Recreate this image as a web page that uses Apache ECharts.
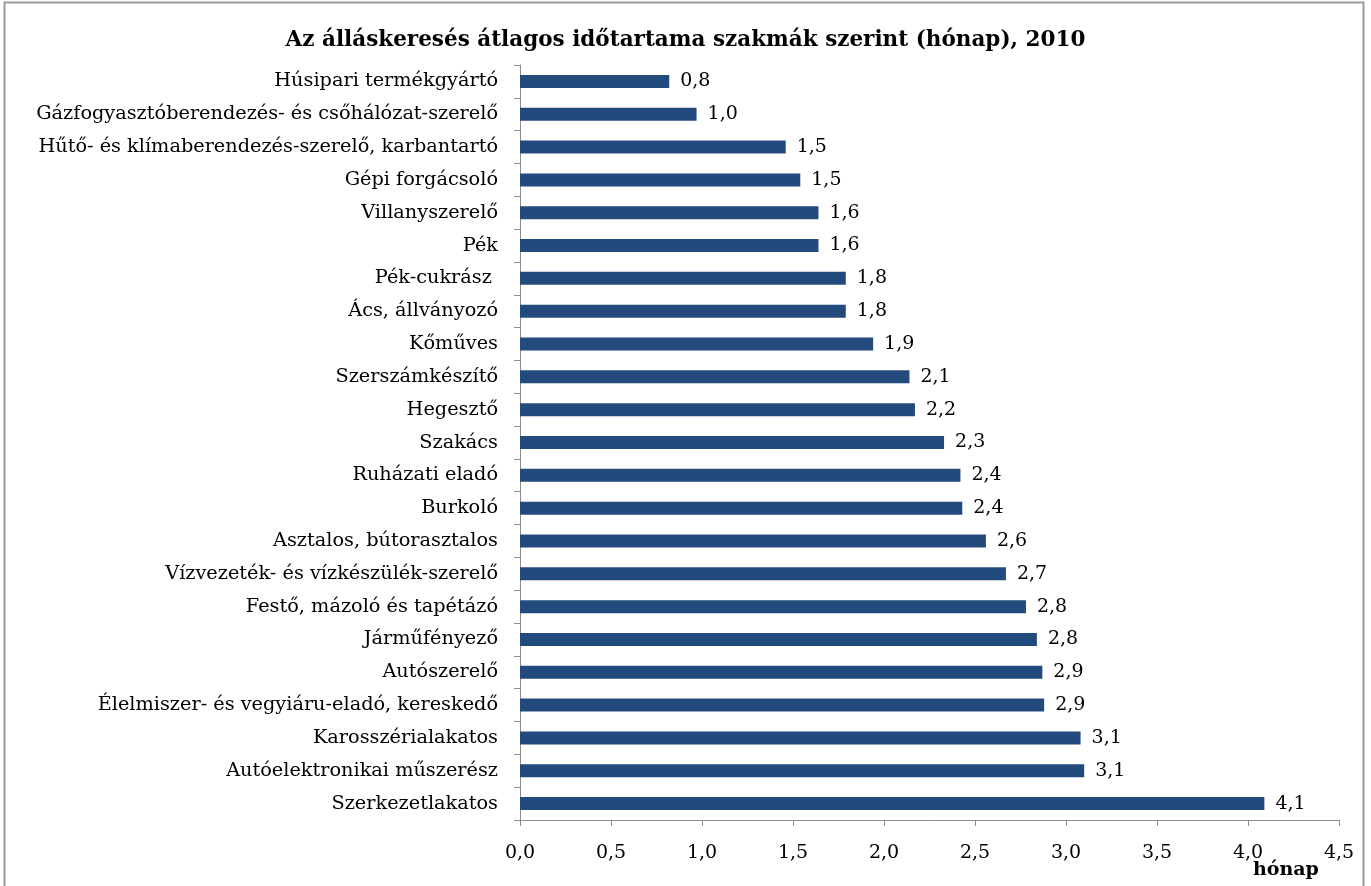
<!DOCTYPE html>
<html>
<head>
<meta charset="utf-8">
<script src="https://cdn.jsdelivr.net/npm/echarts@6/dist/echarts.min.js"></script>
<style>
  html, body { margin: 0; padding: 0; background: #fff; }
  #main { width: 1371px; height: 886px; }
</style>
</head>
<body>
<div id="main"></div>
<script>
// szakmák, felülről lefelé
var categories = [
  'Húsipari termékgyártó',
  'Gázfogyasztóberendezés- és csőhálózat-szerelő',
  'Hűtő- és klímaberendezés-szerelő, karbantartó',
  'Gépi forgácsoló',
  'Villanyszerelő',
  'Pék',
  'Pék-cukrász ',
  'Ács, állványozó',
  'Kőműves',
  'Szerszámkészítő',
  'Hegesztő',
  'Szakács',
  'Ruházati eladó',
  'Burkoló',
  'Asztalos, bútorasztalos',
  'Vízvezeték- és vízkészülék-szerelő',
  'Festő, mázoló és tapétázó',
  'Járműfényező',
  'Autószerelő',
  'Élelmiszer- és vegyiáru-eladó, kereskedő',
  'Karosszérialakatos',
  'Autóelektronikai műszerész',
  'Szerkezetlakatos'
];

// hónap
var months = [
  0.82, 0.97, 1.46, 1.54, 1.64, 1.64, 1.79, 1.79, 1.94, 2.14, 2.17, 2.33,
  2.42, 2.43, 2.56, 2.67, 2.78, 2.84, 2.87, 2.88, 3.08, 3.10, 4.09
];

var xTicks = { min: 0, max: 4.5, interval: 0.5 };

var font = '"DejaVu Serif", serif';
var barColor = '#234a7c';
var axisColor = '#8c8c8c';

function fmt(v) {
  return v.toFixed(1).replace('.', ',');
}

var myChart = echarts.init(document.getElementById('main'));
myChart.setOption({
  animation: false,
  title: {
    text: 'Az álláskeresés átlagos időtartama szakmák szerint (hónap), 2010',
    left: 'center',
    top: 24,
    textStyle: { fontFamily: font, fontSize: 21.5, fontWeight: 'bold', color: '#000' }
  },
  grid: { left: 520, right: 32, top: 65, bottom: 66 },
  xAxis: {
    type: 'value',
    min: xTicks.min,
    max: xTicks.max,
    interval: xTicks.interval,
    splitLine: { show: false },
    axisLine: { show: true, lineStyle: { color: axisColor } },
    axisTick: { show: true, length: 6, lineStyle: { color: axisColor } },
    axisLabel: {
      formatter: fmt,
      fontFamily: font,
      fontSize: 19,
      color: '#000',
      margin: 24
    }
  },
  yAxis: {
    type: 'category',
    data: categories,
    inverse: true,
    axisLine: { show: true, lineStyle: { color: axisColor } },
    axisTick: { show: true, length: 6, lineStyle: { color: axisColor } },
    axisLabel: {
      fontFamily: font,
      fontSize: 19.3,
      color: '#000',
      margin: 22
    }
  },
  series: [{
    type: 'bar',
    data: months,
    barWidth: 13,
    itemStyle: { color: barColor },
    label: {
      show: true,
      position: 'right',
      distance: 11,
      formatter: function (p) { return fmt(p.value); },
      fontFamily: font,
      fontSize: 19,
      color: '#000'
    }
  }],
  graphic: [
    {
      type: 'rect',
      shape: { x: 4.5, y: 2.5, width: 1359, height: 890 },
      style: { fill: null, stroke: '#9a9a9a', lineWidth: 2 },
      silent: true
    },
    {
      type: 'text',
      left: 1253,
      top: 861,
      style: { text: 'hónap', font: 'bold 19px ' + font, fill: '#000' }
    }
  ]
});
</script>
</body>
</html>
